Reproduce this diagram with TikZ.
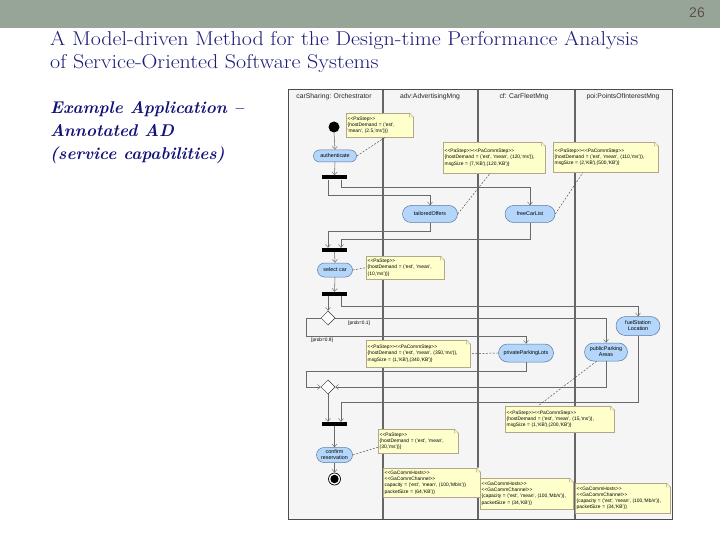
\documentclass[tikz,border=0pt]{standalone}
\usepackage{fontspec}
\usepackage{graphicx}
\newfontfamily\diafont{Liberation Sans}
\usetikzlibrary{arrows.meta,shapes.geometric,shapes.misc}
\definecolor{barcol}{HTML}{97A598}
\definecolor{numcol}{HTML}{5E5246}
\definecolor{navy}{HTML}{1C1C7A}
\definecolor{navytwo}{HTML}{12127A}
\definecolor{lanebg}{HTML}{F5F5F5}
\definecolor{notefill}{HTML}{FFFFCC}
\definecolor{notedraw}{HTML}{B0A888}
\definecolor{actfill}{HTML}{B4D6FA}
\definecolor{actdraw}{HTML}{5A7BA0}
\definecolor{flowcol}{HTML}{6A6A6A}
\newcommand\stereo[1]{{<}{<}#1{>}{>}}
\newcommand\notefold[1]{%
  \fill[lanebg] ([xshift=-4pt,yshift=0.4pt]#1.north east) -- ([xshift=0.4pt,yshift=0.4pt]#1.north east) -- ([xshift=0.4pt,yshift=-4pt]#1.north east) -- cycle;
  \draw[notedraw,line width=0.4pt,line join=round] ([xshift=-4pt]#1.north east) -- ([xshift=-4pt,yshift=-4pt]#1.north east) -- ([yshift=-4pt]#1.north east) -- cycle;}
\begin{document}
\begin{tikzpicture}[x=1pt,y=-1pt,
  act/.style={rounded rectangle, draw=actdraw, fill=actfill, line width=0.5pt, inner sep=0.5pt, font=\diafont\fontsize{5.4}{6}\selectfont, align=center},
  forkbar/.style={fill=black, inner sep=0pt, minimum width=25pt, minimum height=4pt},
  note/.style={draw=notedraw, fill=notefill, line width=0.4pt, anchor=north west, inner sep=1.5pt, font=\diafont\fontsize{4.9}{6.1}\selectfont, align=left},
  flow/.style={draw=flowcol, line width=0.55pt, -{Straight Barb[length=3pt,width=5pt,line width=0.45pt]}},
  anno/.style={draw=black!70, line width=0.45pt, dash pattern=on 2pt off 1.5pt},
  lanehead/.style={font=\diafont\fontsize{6.8}{8}\selectfont, text=black!85, inner sep=0pt},
  dmd/.style={diamond, draw=black!80, fill=white, line width=0.5pt, inner sep=0pt, minimum width=14pt, minimum height=14pt},
  guard/.style={font=\diafont\fontsize{4.8}{5.5}\selectfont, inner sep=0pt, anchor=north west},
  lanesep/.style={draw=black!60, line width=1.1pt},
  frame/.style={draw=black!70, line width=0.9pt}]
\useasboundingbox (0,0) rectangle (720,540);
\fill[white] (0,0) rectangle (720,540);
% top bar
\fill[barcol] (0,0) rectangle (720,28);
\node[font=\diafont\fontsize{14}{16}\selectfont, text=numcol, inner sep=0pt] (pg) at (697,13) {26};
% title
\node[anchor=base west, font=\fontsize{20}{24}\selectfont, text=navy, inner sep=0pt] (t1) at (50,46) {\scalebox{1.1}[1]{A Model-driven Method for the Design-time Performance Analysis}};
\node[anchor=base west, font=\fontsize{20}{24}\selectfont, text=navy, inner sep=0pt] (t2) at (50,69) {\scalebox{1.1}[1]{of Service-Oriented Software Systems}};
\node[anchor=base west, font=\bfseries\itshape\fontsize{17}{20}\selectfont, text=navytwo, inner sep=0pt] (s1) at (50,114) {Example Application --};
\node[anchor=base west, font=\bfseries\itshape\fontsize{17}{20}\selectfont, text=navytwo, inner sep=0pt] (s2) at (50,137) {Annotated AD};
\node[anchor=base west, font=\bfseries\itshape\fontsize{17}{20}\selectfont, text=navytwo, inner sep=0pt] (s3) at (50,160) {(service capabilities)};
% lanes
\fill[lanebg] (288,89) rectangle (672,519);
\draw[lanesep] (383,89) -- (383,519);
\draw[lanesep] (478,89) -- (478,519);
\draw[lanesep] (575,89) -- (575,519);
\draw[frame] (288,89) rectangle (672,519);
\node[lanehead] (h1) at (334,97) {carSharing: Orchestrator};
\node[lanehead] (h2) at (430,97) {adv:AdvertisingMng};
\node[lanehead] (h3) at (524,97) {cf: CarFleetMng};
\node[lanehead] (h4) at (623,97) {poi:PointsOfInterestMng};
% nodes
\node[circle, fill=black, inner sep=0pt, minimum size=11pt] (ini) at (334,127) {};
\node[act, minimum width=44pt, minimum height=12pt] (au) at (335,156) {authenticate};
\node[forkbar] (fk1) at (334.5,177.5) {};
\node[act, minimum width=56pt, minimum height=17pt] (to) at (430,214) {tailoredOffers};
\node[act, minimum width=51pt, minimum height=17pt] (fc) at (530,214) {freeCarList};
\node[forkbar] (fk2) at (334.5,250) {};
\node[act, minimum width=36pt, minimum height=14pt] (sc) at (335,270) {select car};
\node[forkbar] (fk3) at (334.5,294) {};
\node[dmd] (dec) at (328,318) {};
\node[act, minimum width=45pt, minimum height=19pt] (fs) at (638,326) {fuelStation\\Location};
\node[act, minimum width=44pt, minimum height=18pt] (pp) at (606,352) {publicParking\\Areas};
\node[act, minimum width=56pt, minimum height=18pt] (pl) at (526,353) {privateParkingLots};
\node[dmd] (mg) at (328,387) {};
\node[forkbar] (fk4) at (334.5,424) {};
\node[act, minimum width=37pt, minimum height=15pt] (cr) at (334.5,455) {confirm\\reservation};
\node[circle, draw=black, line width=0.7pt, fill=white, inner sep=0pt, minimum size=12pt] (fin) at (334.5,479) {};
\fill[black] (fin.center) circle (4.2pt);
% flows
\draw[flow] (ini.south) -- (au.north);
\draw[flow] (au.south) -- (fk1.north);
\draw[flow] ([xshift=-6.5pt]fk1.south) -- ++(0,16) -| (to.north);
\draw[flow] ([xshift=6.5pt]fk1.south) -- ++(0,8) -| (fc.north);
\draw[flow] (to.south) -- ++(0,8.5) -| ([xshift=-6.5pt]fk2.north);
\draw[flow] (fc.south) -- ++(0,16.5) -| ([xshift=6.5pt]fk2.north);
\draw[flow] (fk2.south) -- (sc.north);
\draw[flow] (sc.south) -- (fk3.north);
\draw[flow] ([xshift=-6.5pt]fk3.south) -- (dec.north);
\draw[flow] ([xshift=6.5pt]fk3.south) -- ++(0,10) -| (fs.north);
\draw[flow] (dec.east) -| (pp.north);
\draw[flow] (dec.west) -- ++(-14,0) -- ++(0,18) -| (pl.north);
\node[guard] (g1) at (348,321) {[prob=0.1]};
\node[guard] (g2) at (311,338) {[prob=0.9]};
\draw[flow] (pl.south) -- ++(0,9) -| ([xshift=-14pt]mg.west) -- (mg.west);
\draw[flow] (pp.south) |- (mg.east);
\draw[flow] (fs.south) -- ++(0,66.5) -| ([xshift=6.5pt]fk4.north);
\draw[flow] (mg.south) -- ([xshift=-6.5pt]fk4.north);
\draw[flow] (fk4.south) -- (cr.north);
\draw[flow] (cr.south) -- (fin.north);
% notes
\node[note, text width=64pt, minimum height=24pt] (n1) at (346,113) {\stereo{PaStep}\\\{hostDemand = ('est',\\'mean', (2.5,'ms'))\}};
\notefold{n1}
\node[note, text width=99pt, minimum height=31pt] (n2) at (443,142) {\stereo{PaStep}\stereo{PaCommStep}\\\{hostDemand = ('est', 'mean', (120,'ms')),\\msgSize = (7,'KB'),(120,'KB')\}};
\notefold{n2}
\node[note, text width=102pt, minimum height=30pt] (n3) at (553,142) {\stereo{PaStep}\stereo{PaCommStep}\\\{hostDemand = ('est', 'mean', (110,'ms')),\\msgSize = (2,'KB'),(500,'KB')\}};
\notefold{n3}
\node[note, text width=75pt, minimum height=23pt] (n4) at (366,256) {\stereo{PaStep}\\\{hostDemand = ('est', 'mean',\\(10,'ms'))\}};
\notefold{n4}
\node[note, text width=101pt, minimum height=27pt] (n5) at (366,340) {\stereo{PaStep}\stereo{PaCommStep}\\\{hostDemand = ('est', 'mean', (350,'ms')),\\msgSize = (1,'KB'),(340,'KB')\}};
\notefold{n5}
\node[note, text width=106pt, minimum height=26pt] (n10) at (505,406) {\stereo{PaStep}\stereo{PaCommStep}\\\{hostDemand = ('est', 'mean', (15,'ms')),\\msgSize = (1,'KB'),(200,'KB')\}};
\notefold{n10}
\node[note, text width=77pt, minimum height=24pt] (n6) at (378,429) {\stereo{PaStep}\\\{hostDemand = ('est', 'mean',\\(30,'ms'))\}};
\notefold{n6}
\node[note, text width=94pt, minimum height=29pt] (n7) at (383,468) {\stereo{GaCommHosts}\\\stereo{GaCommChannel}\\capacity = ('est', 'mean', (100,'Mb/s'))\\packetSize = (64,'KB')\}};
\notefold{n7}
\node[note, text width=90pt, minimum height=31pt] (n8) at (480,478) {\stereo{GaCommHosts}\\\stereo{GaCommChannel}\\\{capacity = ('est', 'mean', (100,'Mb/s')),\\packetSize = (34,'KB')\}};
\notefold{n8}
\node[note, text width=92pt, minimum height=30pt] (n9) at (575,483) {\stereo{GaCommHosts}\\\stereo{GaCommChannel}\\\{capacity = ('est', 'mean', (100,'Mb/s')),\\packetSize = (34,'KB')\}};
\notefold{n9}
% annotation links
\draw[anno] (au.east) -- ([xshift=39pt]n1.south west);
\draw[anno] (to.east) -- ([xshift=47pt]n2.south west);
\draw[anno] (fc.east) -- ([xshift=30pt]n3.south west);
\draw[anno] (sc.east) -- (n4.west);
\draw[anno] (pl.west) -- (n5.east);
\draw[anno] ([xshift=3pt]pp.south west) -- ([xshift=33pt]n10.north west);
\draw[anno] (cr.east) -- ([yshift=-6pt]n6.west);
\end{tikzpicture}
\end{document}
